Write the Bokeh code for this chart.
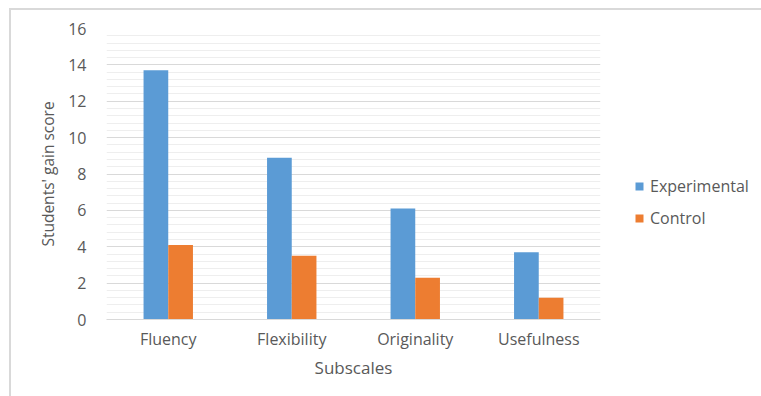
from bokeh.plotting import figure
from bokeh.layouts import row
from bokeh.models import FixedTicker, Legend, LegendItem, FactorRange, ColumnDataSource
from bokeh.transform import dodge
from bokeh.embed import file_html
from bokeh.resources import INLINE

categories = ["Fluency", "Flexibility", "Originality", "Usefulness"]
experimental = [13.7, 8.9, 6.1, 3.7]
control = [4.1, 3.5, 2.3, 1.2]
y_ticks = [0, 2, 4, 6, 8, 10, 12, 14, 16]
series_names = ["Experimental", "Control"]
colors = ["#5B9BD5", "#ED7D31"]

FONT = "Open Sans"
TXT = "#595959"

src = ColumnDataSource(dict(cat=categories, exp=experimental, ctl=control))

p = figure(width=591, height=386, x_range=FactorRange(*categories), y_range=(0, 16),
           output_backend="svg", toolbar_location=None,
           min_border_left=95, min_border_right=2, min_border_top=18, min_border_bottom=77)
p.outline_line_color = None
p.background_fill_color = "white"
p.border_fill_color = "white"

p.vbar(x=dodge("cat", -0.1, range=p.x_range), top="exp", width=0.2, source=src,
       fill_color=colors[0], line_color=None)
p.vbar(x=dodge("cat", 0.1, range=p.x_range), top="ctl", width=0.2, source=src,
       fill_color=colors[1], line_color=None)

minor = [round(0.4 * i, 2) for i in range(1, 40) if i % 5 != 0]
p.yaxis.ticker = FixedTicker(ticks=y_ticks, minor_ticks=minor)
p.ygrid.grid_line_color = "#d9d9d9"
p.ygrid.grid_line_width = 1
p.ygrid.minor_grid_line_color = "#eeeeee"
p.xgrid.grid_line_color = None

p.yaxis.axis_line_color = None
p.yaxis.major_tick_line_color = None
p.yaxis.minor_tick_line_color = None
p.yaxis.major_label_standoff = 14
p.yaxis.major_label_text_font = FONT
p.yaxis.major_label_text_font_size = "16px"
p.yaxis.major_label_text_color = TXT
p.yaxis.axis_label = "Students' gain score"
p.yaxis.axis_label_text_font = FONT
p.yaxis.axis_label_text_font_size = "15.5px"
p.yaxis.axis_label_text_font_style = "normal"
p.yaxis.axis_label_text_color = TXT
p.yaxis.axis_label_standoff = 6

p.xaxis.axis_line_color = "#d9d9d9"
p.xaxis.major_tick_line_color = None
p.xaxis.minor_tick_line_color = None
p.xaxis.major_label_standoff = 2
p.xaxis.major_label_text_font = FONT
p.xaxis.major_label_text_font_size = "16px"
p.xaxis.major_label_text_color = TXT
p.xaxis.axis_label = "Subscales"
p.xaxis.axis_label_text_font = FONT
p.xaxis.axis_label_text_font_size = "17px"
p.xaxis.axis_label_text_font_style = "normal"
p.xaxis.axis_label_text_color = TXT
p.xaxis.axis_label_standoff = 3

# legend panel (its frame is aligned with the main plot's frame by the row)
q = figure(width=159, height=386, x_range=(0, 1), y_range=(0, 1),
           output_backend="svg", toolbar_location=None,
           min_border=0)
q.axis.visible = False
q.grid.grid_line_color = None
q.outline_line_color = None
q.background_fill_color = "white"
q.border_fill_color = "white"
# zero-height placeholder bars: they only supply the legend swatches
lr1 = q.vbar(x=[0.5], top=[0], bottom=[0], width=0, fill_color=colors[0], line_color=None)
lr2 = q.vbar(x=[0.5], top=[0], bottom=[0], width=0, fill_color=colors[1], line_color=None)

legend = Legend(items=[LegendItem(label=series_names[0], renderers=[lr1]),
                       LegendItem(label=series_names[1], renderers=[lr2])],
                location=(32, 90), orientation="vertical")
legend.glyph_width = 10
legend.glyph_height = 10
legend.label_standoff = 6
legend.label_height = 20
legend.spacing = 10
legend.padding = 0
legend.margin = 0
legend.border_line_color = None
legend.background_fill_alpha = 0
legend.label_text_font = FONT
legend.label_text_font_size = "16px"
legend.label_text_color = TXT
q.add_layout(legend)

layout = row(p, q, styles={"border-left": "2px solid #d9d9d9", "border-top": "2px solid #d9d9d9",
                           "margin-left": "9px", "margin-top": "8px"})

open("out.html", "w").write(file_html(layout, INLINE))
